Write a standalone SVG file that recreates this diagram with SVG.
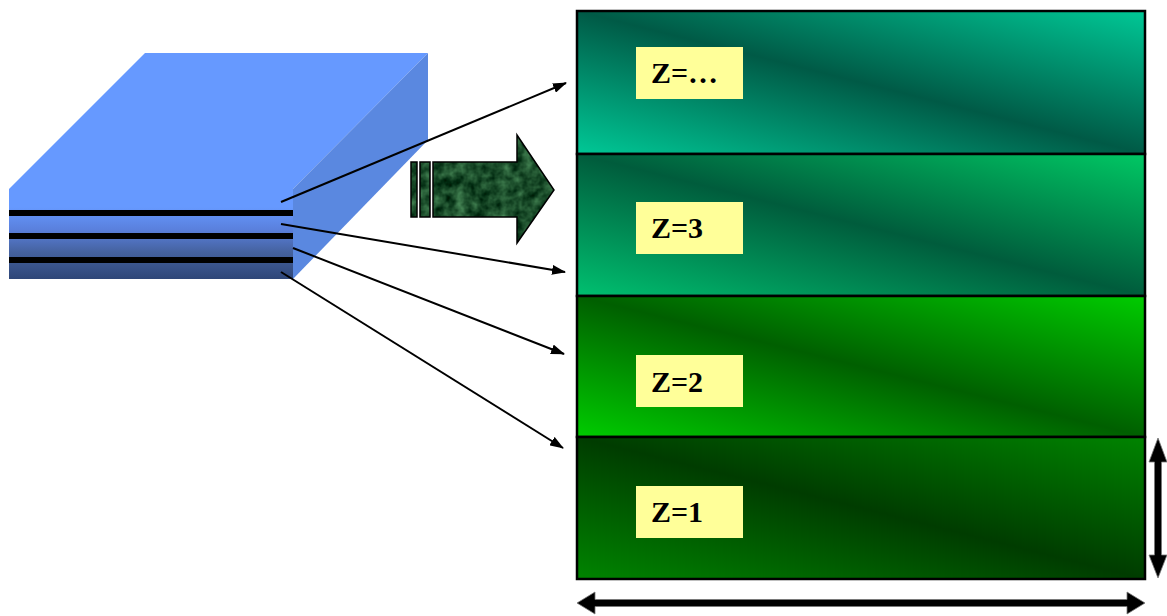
<svg xmlns="http://www.w3.org/2000/svg" width="1167" height="616" viewBox="0 0 1167 616">
  <style>
    .panel { stroke: #000; stroke-width: 2.5; }
    .label-box { fill: #ffff99; }
    .label { font-family: "Liberation Serif", "Times New Roman", Tinos, serif; font-weight: bold; font-size: 30px; fill: #000; }
    .conn { stroke: #000; stroke-width: 2; fill: none; marker-end: url(#tip); }
    .stripe { fill: #000; }
  </style>
  <defs>
    <marker id="tip" markerWidth="14" markerHeight="10" refX="13" refY="5" orient="auto" markerUnits="userSpaceOnUse">
      <path d="M0,0 L14,5 L0,10 Z" fill="#000"/>
    </marker>
    <linearGradient id="g1" x1="0" y1="1" x2="1" y2="0">
      <stop offset="0" stop-color="#00c896"/>
      <stop offset="0.5" stop-color="#005a46"/>
      <stop offset="1" stop-color="#00c896"/>
    </linearGradient>
    <linearGradient id="g2" x1="0" y1="1" x2="1" y2="0">
      <stop offset="0" stop-color="#00c070"/>
      <stop offset="0.5" stop-color="#005c3c"/>
      <stop offset="1" stop-color="#00c864"/>
    </linearGradient>
    <linearGradient id="g3" x1="0" y1="1" x2="1" y2="0">
      <stop offset="0" stop-color="#00cc00"/>
      <stop offset="0.5" stop-color="#005f00"/>
      <stop offset="1" stop-color="#00cc00"/>
    </linearGradient>
    <linearGradient id="g4" x1="0" y1="1" x2="1" y2="0">
      <stop offset="0" stop-color="#008400"/>
      <stop offset="0.5" stop-color="#003c00"/>
      <stop offset="1" stop-color="#008400"/>
    </linearGradient>
    <linearGradient id="front" x1="0" y1="0" x2="0" y2="1">
      <stop offset="0" stop-color="#6699ff"/>
      <stop offset="0.2" stop-color="#6699ff"/>
      <stop offset="0.45" stop-color="#5a80dd"/>
      <stop offset="0.7" stop-color="#45629f"/>
      <stop offset="1" stop-color="#2e4678"/>
    </linearGradient>
    <filter id="marble" x="0" y="0" width="1" height="1" color-interpolation-filters="sRGB">
      <feTurbulence type="fractalNoise" baseFrequency="0.09" numOctaves="3" seed="4" result="n"/>
      <feColorMatrix in="n" type="matrix" values="0.45 0 0 0 -0.12  0.6 0 0 0 0  0.45 0 0 0 -0.06  0 0 0 0 1" result="c"/>
      <feComposite in="c" in2="SourceGraphic" operator="in"/>
    </filter>
  </defs>

  <g id="block">
    <polygon points="9,189 145,53 428,53 293,189" fill="#6699ff"/>
    <polygon points="293,189 428,53 428,140 293,279" fill="#5a88e0"/>
    <rect x="9" y="189" width="284" height="90" fill="url(#front)"/>
    <rect class="stripe" x="9" y="210" width="284" height="6"/>
    <rect class="stripe" x="9" y="233" width="284" height="6"/>
    <rect class="stripe" x="9" y="257" width="284" height="6"/>
  </g>

  <g id="big-arrow">
    <g filter="url(#marble)">
      <rect x="411" y="162" width="6" height="55" fill="#1f5a35"/>
      <rect x="420" y="162" width="10" height="55" fill="#1f5a35"/>
      <polygon points="433,162 517,162 517,135 554,190 517,243 517,217 433,217" fill="#1f5a35"/>
    </g>
    <g fill="none" stroke="#000" stroke-width="1.5">
      <rect x="411" y="162" width="6" height="55"/>
      <rect x="420" y="162" width="10" height="55"/>
      <polygon points="433,162 517,162 517,135 554,190 517,243 517,217 433,217"/>
    </g>
  </g>

  <g id="panel-zdots">
    <rect class="panel" x="577" y="11" width="568" height="143" fill="url(#g1)"/>
    <rect class="label-box" x="636" y="47" width="107" height="52"/>
    <text class="label" x="651" y="83">Z=…</text>
  </g>
  <g id="panel-z3">
    <rect class="panel" x="577" y="154" width="568" height="142" fill="url(#g2)"/>
    <rect class="label-box" x="636" y="202" width="107" height="52"/>
    <text class="label" x="651" y="238">Z=3</text>
  </g>
  <g id="panel-z2">
    <rect class="panel" x="577" y="296" width="568" height="141" fill="url(#g3)"/>
    <rect class="label-box" x="636" y="355" width="107" height="52"/>
    <text class="label" x="651" y="392">Z=2</text>
  </g>
  <g id="panel-z1">
    <rect class="panel" x="577" y="437" width="568" height="142" fill="url(#g4)"/>
    <rect class="label-box" x="636" y="486" width="107" height="52"/>
    <text class="label" x="651" y="522">Z=1</text>
  </g>

  <g id="connectors">
    <line class="conn" x1="281" y1="202" x2="566" y2="83"/>
    <line class="conn" x1="281" y1="224" x2="565" y2="272"/>
    <line class="conn" x1="293" y1="248" x2="564" y2="354"/>
    <line class="conn" x1="281" y1="272" x2="563" y2="448"/>
  </g>

  <g id="dimension-arrows" fill="#000" stroke="#777" stroke-width="0.8">
    <polygon points="1158,438 1167,462 1161.5,462 1161.5,555 1167,555 1158,578 1149,555 1154.5,555 1154.5,462 1149,462"/>
    <polygon points="577,603 595,592 595,599.5 1127,599.5 1127,592 1145,603 1127,614 1127,606.5 595,606.5 595,614"/>
  </g>
</svg>
